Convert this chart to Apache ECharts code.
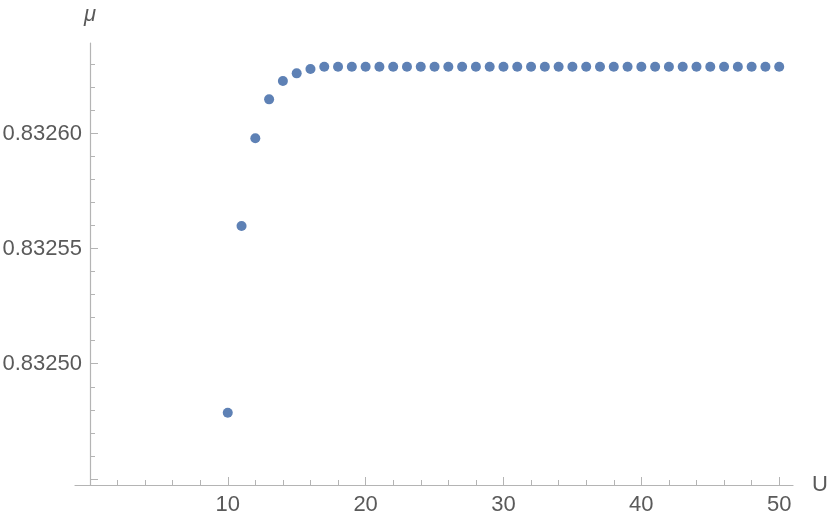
<!DOCTYPE html>
<html>
<head>
<meta charset="utf-8">
<script src="https://cdn.jsdelivr.net/npm/echarts@6/dist/echarts.min.js"></script>
<style>
  html, body { margin: 0; padding: 0; background: #fff; }
  #chart { width: 830px; height: 524px; }
</style>
</head>
<body>
<div id="chart"></div>
<script>
// data
const uValues = [10, 11, 12, 13, 14, 15, 16, 17, 18, 19, 20, 21, 22, 23, 24, 25, 26, 27, 28, 29, 30,
  31, 32, 33, 34, 35, 36, 37, 38, 39, 40, 41, 42, 43, 44, 45, 46, 47, 48, 49, 50];
const muValues = [0.8324787, 0.8325599, 0.8325980, 0.8326149, 0.8326229, 0.8326262, 0.8326281,
  0.8326291, 0.8326291, 0.8326291, 0.8326291, 0.8326291, 0.8326291, 0.8326291, 0.8326291, 0.8326291,
  0.8326291, 0.8326291, 0.8326291, 0.8326291, 0.8326291, 0.8326291, 0.8326291, 0.8326291, 0.8326291,
  0.8326291, 0.8326291, 0.8326291, 0.8326291, 0.8326291, 0.8326291, 0.8326291, 0.8326291, 0.8326291,
  0.8326291, 0.8326291, 0.8326291, 0.8326291, 0.8326291, 0.8326291, 0.8326291];

// tick marks
const xMajorTicks = [10, 20, 30, 40, 50];
const xMinorTicks = [2, 4, 6, 8, 12, 14, 16, 18, 22, 24, 26, 28, 32, 34, 36, 38, 42, 44, 46, 48];
const yMajorTicks = [0.83245, 0.83250, 0.83255, 0.83260];
const yLabelTicks = [0.83250, 0.83255, 0.83260];
const yMinorTicks = [0.83246, 0.83247, 0.83248, 0.83249, 0.83251, 0.83252, 0.83253, 0.83254,
  0.83256, 0.83257, 0.83258, 0.83259, 0.83261, 0.83262, 0.83263];

const axisGray = '#b4b4b4';
const textGray = '#5a5a5a';
const font = '"Liberation Sans", Arial, sans-serif';

const chart = echarts.init(document.getElementById('chart'));

const xRange = { min: -1.08, max: 51 };
const yRange = { min: 0.8324473, max: 0.8326394 };
// the y axis sits at U = 0, about 15px right of the grid edge
const yAxisShift = -15;

chart.setOption({
  animation: false,
  grid: { left: 75, right: 37, top: 43, bottom: 39, containLabel: false, outerBoundsMode: 'none' },
  xAxis: [
    {
      type: 'value',
      min: xRange.min,
      max: xRange.max,
      position: 'bottom',
      name: 'U',
      nameLocation: 'end',
      nameGap: 19,
      nameTextStyle: { color: textGray, fontSize: 22, fontFamily: font },
      axisLine: { show: true, onZero: false, lineStyle: { color: axisGray, width: 1.2 } },
      axisTick: { show: true, inside: true, length: 8, customValues: xMajorTicks, lineStyle: { color: axisGray } },
      axisLabel: { show: true, margin: 9, customValues: xMajorTicks, color: textGray, fontSize: 22, fontFamily: font },
      splitLine: { show: false }
    },
    {
      type: 'value',
      min: xRange.min,
      max: xRange.max,
      position: 'bottom',
      offset: 0,
      axisLine: { show: false, onZero: false },
      axisTick: { show: true, inside: true, length: 5, customValues: xMinorTicks, lineStyle: { color: axisGray } },
      axisLabel: { show: false },
      splitLine: { show: false }
    }
  ],
  yAxis: [
    {
      type: 'value',
      min: yRange.min,
      max: yRange.max,
      position: 'left',
      offset: yAxisShift,
      name: 'μ',
      nameLocation: 'end',
      nameGap: 17,
      nameTextStyle: { color: textGray, fontSize: 22, fontStyle: 'italic', fontFamily: font, align: 'center' },
      axisLine: { show: true, onZero: false, lineStyle: { color: axisGray, width: 1.2 } },
      axisTick: { show: true, inside: true, length: 8, customValues: yMajorTicks, lineStyle: { color: axisGray } },
      axisLabel: {
        show: true, margin: 8, customValues: yLabelTicks, color: textGray, fontSize: 22, fontFamily: font,
        formatter: v => v.toFixed(5)
      },
      splitLine: { show: false }
    },
    {
      type: 'value',
      min: yRange.min,
      max: yRange.max,
      position: 'left',
      offset: yAxisShift,
      axisLine: { show: false, onZero: false },
      axisTick: { show: true, inside: true, length: 5, customValues: yMinorTicks, lineStyle: { color: axisGray } },
      axisLabel: { show: false },
      splitLine: { show: false }
    }
  ],
  series: [
    {
      type: 'scatter',
      xAxisIndex: 0,
      yAxisIndex: 0,
      symbol: 'circle',
      symbolSize: 10,
      itemStyle: { color: '#5E81B5', opacity: 1 },
      data: uValues.map((u, i) => [u, muValues[i]])
    }
  ]
});
</script>
</body>
</html>
